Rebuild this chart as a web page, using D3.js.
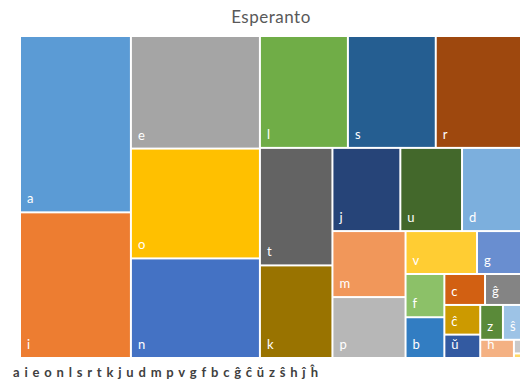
<!DOCTYPE html>
<html lang="en">
<head>
<meta charset="utf-8">
<script src="https://cdnjs.cloudflare.com/ajax/libs/d3/7.8.5/d3.min.js"></script>
<style>
  body { margin: 0; background: #fff; font-family: "Lato", "Open Sans", sans-serif; }
  .title { font-size: 17px; fill: #595959; text-anchor: middle; letter-spacing: 0.5px; }
  .tile text { fill: #fff; font-size: 13px; }
  .legend { font-size: 13px; font-weight: bold; fill: #404040; letter-spacing: 4.8px; }
</style>
</head>
<body>
<svg id="chart" width="522" height="387"></svg>
<script>
// letter frequencies (%) for Esperanto, in legend order
var letters = ["a","i","e","o","n","l","s","r","t","k","j","u","d","m","p","v","g","f","b","c","ĝ","ĉ","ŭ","z","ŝ","h","ĵ","ĥ"];
var freqs = [12.12,10.01,9.00,8.78,7.96,6.10,6.09,5.91,5.28,4.16,3.50,3.18,3.04,2.99,2.76,1.90,1.17,1.04,0.98,0.78,0.69,0.66,0.52,0.49,0.39,0.38,0.06,0.02];
var colors = ["#5b9bd5","#ed7d31","#a5a5a5","#ffc000","#4472c4","#70ad47","#255e91","#9e480e","#636363","#997300","#264478","#43682b",
              "#7cafdd","#f1975a","#b7b7b7","#ffcd33","#698ed0","#8cc168","#327dc2","#d26012","#848484","#cc9a00","#335aa1","#5a8a39",
              "#9dc3e6","#f4b183","#c9c9c9","#ffd966"];

var svg = d3.select("#chart");
var x0 = 21, y0 = 37, w = 499, h = 320;

svg.append("text").attr("class", "title")
  .attr("x", 271).attr("y", 23).text("Esperanto");

var color = d3.scaleOrdinal().domain(letters).range(colors);

var root = d3.hierarchy({children: letters.map(function(l, i) { return {name: l, value: freqs[i]}; })})
  .sum(function(d) { return d.value; })
  .sort(function(a, b) { return b.value - a.value; });

d3.treemap()
  .tile(d3.treemapSquarify.ratio(1))
  .size([w, h])
  .paddingInner(2)
  .round(false)(root);

var g = svg.append("g").attr("transform", "translate(" + x0 + "," + y0 + ")");

var tile = g.selectAll("g.tile")
  .data(root.leaves())
  .enter().append("g")
  .attr("class", "tile")
  .attr("transform", function(d) { return "translate(" + d.x0 + "," + d.y0 + ")"; });

tile.append("rect")
  .attr("width", function(d) { return d.x1 - d.x0; })
  .attr("height", function(d) { return d.y1 - d.y0; })
  .attr("fill", function(d) { return color(d.data.name); });

tile.filter(function(d) { return d.x1 - d.x0 > 9 && d.y1 - d.y0 > 16; })
  .append("text")
  .attr("x", 6)
  .attr("y", function(d) { return d.y1 - d.y0 - 8; })
  .text(function(d) { return d.data.name; });

svg.append("text").attr("class", "legend")
  .attr("x", 13).attr("y", 377)
  .text(letters.join(""));
</script>
</body>
</html>
